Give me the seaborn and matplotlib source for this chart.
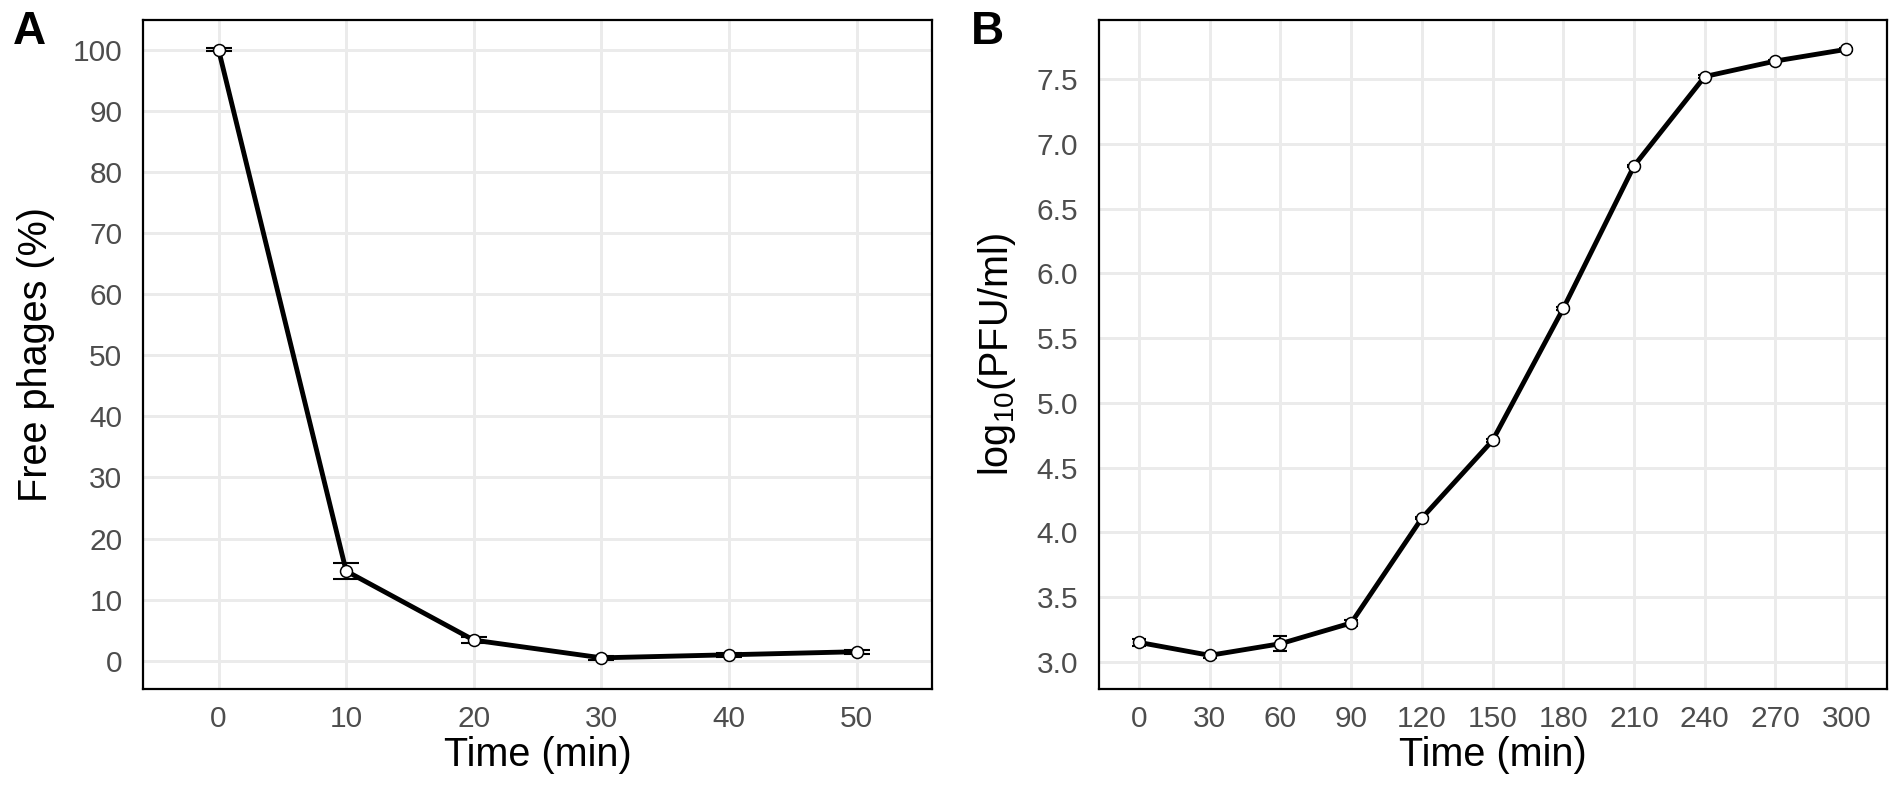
import numpy as np
import pandas as pd
import seaborn as sns
import matplotlib.pyplot as plt

# Panel A: adsorption (free phages over time)
adsorb_time = [0, 10, 20, 30, 40, 50]
free_phages = [100.0, 14.7, 3.4, 0.5, 1.0, 1.5]
free_phages_err = [0.3, 1.35, 0.5, 0.3, 0.3, 0.3]

# Panel B: one-step growth curve
growth_time = [0, 30, 60, 90, 120, 150, 180, 210, 240, 270, 300]
log_pfu = [3.15, 3.05, 3.14, 3.30, 4.11, 4.71, 5.73, 6.83, 7.52, 7.64, 7.73]
log_pfu_err = [0.03, 0.02, 0.06, 0.02, 0.01, 0.01, 0.01, 0.01, 0.01, 0.01, 0.01]

sns.set_theme(style="whitegrid")
plt.rcParams['font.family'] = ['Liberation Sans', 'DejaVu Sans']
plt.rcParams['text.color'] = 'black'
plt.rcParams['axes.labelcolor'] = 'black'

df_a = pd.DataFrame({'time': adsorb_time, 'free': free_phages, 'err': free_phages_err})
df_b = pd.DataFrame({'time': growth_time, 'pfu': log_pfu, 'err': log_pfu_err})

fig = plt.figure(figsize=(19.02, 7.96), dpi=100)
ax_a = fig.add_axes([0.0753, 0.1344, 0.4147, 0.841])
ax_b = fig.add_axes([0.5778, 0.1344, 0.4143, 0.841])


def style_axis(ax):
    ax.set_facecolor('white')
    ax.grid(True, color='#EBEBEB', linewidth=2.1)
    ax.set_axisbelow(True)
    for side in ax.spines.values():
        side.set_visible(True)
        side.set_color('black')
        side.set_linewidth(1.6)
    ax.tick_params(axis='both', which='major', length=7.5, width=1.8, color='black',
                   labelsize=21.5, labelcolor='#4D4D4D')
    ax.tick_params(axis='x', pad=4)
    ax.tick_params(axis='y', pad=7.5)
    ax.xaxis.label.set_size(28.5)
    ax.yaxis.label.set_size(28.5)
    ax.xaxis.label.set_color('black')
    ax.yaxis.label.set_color('black')


# Panel A
ax_a.errorbar(df_a['time'], df_a['free'], yerr=df_a['err'], fmt='none',
              ecolor='black', elinewidth=1.5, capsize=9.4, capthick=1.5, zorder=2)
sns.lineplot(data=df_a, x='time', y='free', ax=ax_a, color='black', linewidth=3.5,
             marker='o', markersize=8.6, markerfacecolor='white',
             markeredgecolor='black', markeredgewidth=1.1, zorder=3)
ax_a.set_xlim(-5.9, 55.9)
ax_a.set_ylim(-4.6, 104.9)
ax_a.set_xticks(adsorb_time)
ax_a.set_yticks(np.arange(0, 101, 10))
ax_a.set_xlabel('Time (min)', labelpad=2)
ax_a.set_ylabel('Free phages (%)', labelpad=13)
style_axis(ax_a)

# Panel B
ax_b.errorbar(df_b['time'], df_b['pfu'], yerr=df_b['err'], fmt='none',
              ecolor='black', elinewidth=1.5, capsize=5.0, capthick=1.5, zorder=2)
sns.lineplot(data=df_b, x='time', y='pfu', ax=ax_b, color='black', linewidth=3.5,
             marker='o', markersize=8.6, markerfacecolor='white',
             markeredgecolor='black', markeredgewidth=1.1, zorder=3)
ax_b.set_xlim(-17.0, 317.3)
ax_b.set_ylim(2.79, 7.96)
ax_b.set_xticks(growth_time)
ax_b.set_yticks(np.arange(3.0, 7.51, 0.5))
ax_b.set_yticklabels([f'{v:.1f}' for v in np.arange(3.0, 7.51, 0.5)])
ax_b.set_xlabel('Time (min)', labelpad=2)
ax_b.set_ylabel(r'log$_{\mathregular{10}}$(PFU/ml)', labelpad=13)
style_axis(ax_b)

# panel tags
fig.text(13 / 1902, 1 - 10 / 796, 'A', fontsize=33, fontweight='bold', color='black',
         ha='left', va='top')
fig.text(971 / 1902, 1 - 10 / 796, 'B', fontsize=33, fontweight='bold', color='black',
         ha='left', va='top')

fig.savefig('out.png', dpi=100)
